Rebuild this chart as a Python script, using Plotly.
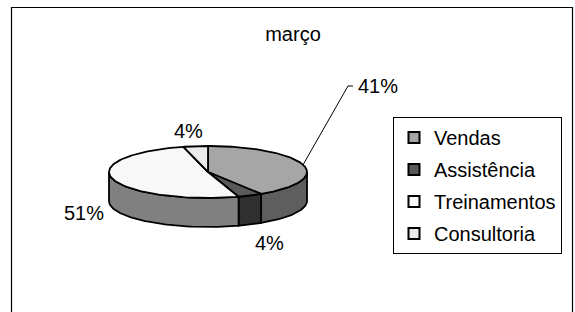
import numpy as np
import plotly.graph_objects as go

# ---- data ----
categories = ["Vendas", "Assistência", "Treinamentos", "Consultoria"]
values = [41, 4, 51, 4]
chart_title = "março"

# ---- styles ----
top_colors = ["#a6a6a6", "#5a5a5a", "#f8f8f8", "#ebebeb"]
side_colors = ["#5e5e5e", "#303030", "#808080", "#858585"]
FONT = "Liberation Sans, Arial, sans-serif"

# pie geometry (pixel space of the 575x312 canvas)
CX, CY, RX, RY, DEPTH = 208, 172, 99, 26, 29
# data-label anchor positions (layout)
label_pos = [(378, 86), (269, 243), (84, 213), (188, 131)]
leader_end = (348, 86)

W, H = 575, 312


def ell(theta_deg, dy=0.0):
    t = np.radians(theta_deg)
    return CX + RX * np.sin(t), CY - RY * np.cos(t) + dy


total = float(sum(values))
bounds = np.concatenate([[0.0], np.cumsum(values) / total * 360.0])

fig = go.Figure()

# side walls (front half only: 90..270 deg clockwise from 12 o'clock)
for i, cat in enumerate(categories):
    a0, a1 = max(bounds[i], 90.0), min(bounds[i + 1], 270.0)
    if a1 <= a0:
        continue
    th = np.linspace(a0, a1, 80)
    xt, yt = ell(th)
    xb, yb = ell(th[::-1], DEPTH)
    xs = np.concatenate([xt, xb, xt[:1]])
    ys = np.concatenate([yt, yb, yt[:1]])
    fig.add_trace(go.Scatter(x=xs, y=ys, mode="lines", fill="toself",
                             fillcolor=side_colors[i],
                             line=dict(color="black", width=1.8),
                             hoverinfo="skip", showlegend=False))

# top faces
for i, cat in enumerate(categories):
    th = np.linspace(bounds[i], bounds[i + 1], 120)
    xa, ya = ell(th)
    xs = np.concatenate([[CX], xa, [CX]])
    ys = np.concatenate([[CY], ya, [CY]])
    fig.add_trace(go.Scatter(x=xs, y=ys, mode="lines", fill="toself",
                             fillcolor=top_colors[i],
                             line=dict(color="black", width=1.8),
                             name=cat, hoverinfo="name", showlegend=False))

# leader line for the first slice label
mid0 = (bounds[0] + bounds[1]) / 2
sx, sy = ell(mid0)
fig.add_trace(go.Scatter(x=[sx, leader_end[0], leader_end[0] + 5],
                         y=[sy, leader_end[1], leader_end[1]],
                         mode="lines", line=dict(color="black", width=1),
                         hoverinfo="skip", showlegend=False))

# data labels
for i, v in enumerate(values):
    fig.add_annotation(x=label_pos[i][0], y=label_pos[i][1],
                       text=f"{v / total * 100:.0f}%", showarrow=False,
                       font=dict(family=FONT, size=20, color="black"),
                       xanchor="center", yanchor="middle")

# legend entries
for i, cat in enumerate(categories):
    fig.add_trace(go.Scatter(x=[None], y=[None], mode="markers", name=cat,
                             legendgroup=cat,
                             marker=dict(symbol="square", size=11,
                                         color=top_colors[i],
                                         line=dict(color="black", width=2))))

# outer chart frame
fig.add_shape(type="rect", x0=11.5, y0=7.5, x1=572.5, y1=330,
              line=dict(color="black", width=1.2), layer="below")

fig.update_layout(
    width=W, height=H,
    margin=dict(l=0, r=0, t=0, b=0),
    paper_bgcolor="white", plot_bgcolor="white",
    font=dict(family=FONT, size=20, color="black"),
    title=dict(text=chart_title, x=293 / W, y=1 - 34 / H,
               xanchor="center", yanchor="middle",
               font=dict(family=FONT, size=20, color="black")),
    xaxis=dict(range=[0, W], visible=False, fixedrange=True),
    yaxis=dict(range=[H, 0], visible=False, fixedrange=True),
    showlegend=True,
    legend=dict(x=393 / W, y=1 - 117 / H, xanchor="left", yanchor="top",
                bordercolor="black", borderwidth=1, bgcolor="white",
                font=dict(family=FONT, size=20, color="black"),
                tracegroupgap=3, traceorder="grouped"),
)

fig.write_html("out.html",
               config={"displayModeBar": False},
               post_script="document.body.style.margin='0px';"
                           "document.body.style.padding='0px';"
                           "document.body.style.overflow='hidden';")
